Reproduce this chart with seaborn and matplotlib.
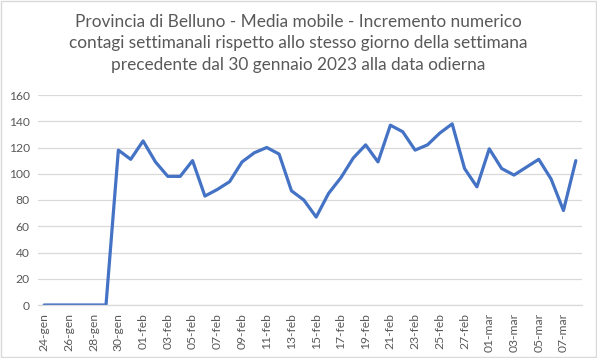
import numpy as np
import pandas as pd
import matplotlib.pyplot as plt
import matplotlib.patches as mpatches
import seaborn as sns

# ----------------------
# Data
dates = (['24-gen', '25-gen', '26-gen', '27-gen', '28-gen', '29-gen', '30-gen', '31-gen']
         + ['%02d-feb' % d for d in range(1, 29)]
         + ['%02d-mar' % d for d in range(1, 9)])
values = [0, 0, 0, 0, 0, 0, 118, 111,
          125, 109, 98, 98, 110, 83, 88, 94, 109, 116, 120, 115, 87, 80,
          67, 85, 97, 112, 122, 109, 137, 132, 118, 122, 131, 138, 104, 90,
          119, 104, 99, 105, 111, 96, 72, 110]
y_ticks = [0, 20, 40, 60, 80, 100, 120, 140, 160]
title = ('Provincia di Belluno - Media mobile - Incremento numerico\n'
         'contagi settimanali rispetto allo stesso giorno della settimana\n'
         'precedente dal 30 gennaio 2023 alla data odierna')

df = pd.DataFrame({'pos': np.arange(len(dates)), 'date': dates, 'value': values})

# ----------------------
sns.set_style('white')
plt.rcParams['font.family'] = ['Lato', 'DejaVu Sans']
text_col = '#595959'

fig = plt.figure(figsize=(5.97, 3.58), dpi=100)
ax = fig.add_axes([38 / 597, 53 / 358, 544 / 597, 210 / 358])

sns.lineplot(data=df, x='pos', y='value', ax=ax, color='#4472C4', linewidth=2.3)

ax.set_xlim(-0.5, len(dates) - 0.5)
ax.set_ylim(0, 160)
ax.set_yticks(y_ticks)
ax.yaxis.grid(True, color='#D9D9D9', linewidth=0.9)
ax.set_axisbelow(True)
ax.tick_params(axis='y', length=0, labelsize=8.7, labelcolor=text_col, pad=6)

# category labels every other day, tick marks between categories
ax.set_xticks(df['pos'][::2])
ax.set_xticklabels(df['date'][::2], rotation=90)
ax.tick_params(axis='x', which='major', length=0, labelsize=8.7, labelcolor=text_col, pad=6)
ax.set_xticks(np.arange(-0.5, len(dates), 2), minor=True)
ax.tick_params(axis='x', which='minor', length=4, color='#D9D9D9', width=0.9)

for s in ['top', 'right', 'left']:
    ax.spines[s].set_visible(False)
ax.spines['bottom'].set_color('#D9D9D9')
ax.spines['bottom'].set_linewidth(0.9)
ax.set_xlabel('')
ax.set_ylabel('')

fig.text(0.5, 0.962, title, ha='center', va='top', fontsize=12.4,
         color=text_col, linespacing=1.42)

# chart border
fig.patches.append(mpatches.Rectangle((0.002, 0.003), 0.996, 0.994, transform=fig.transFigure,
                                      fill=False, edgecolor='#D9D9D9', linewidth=1))

plt.savefig('out.png', dpi=100)
plt.close()
